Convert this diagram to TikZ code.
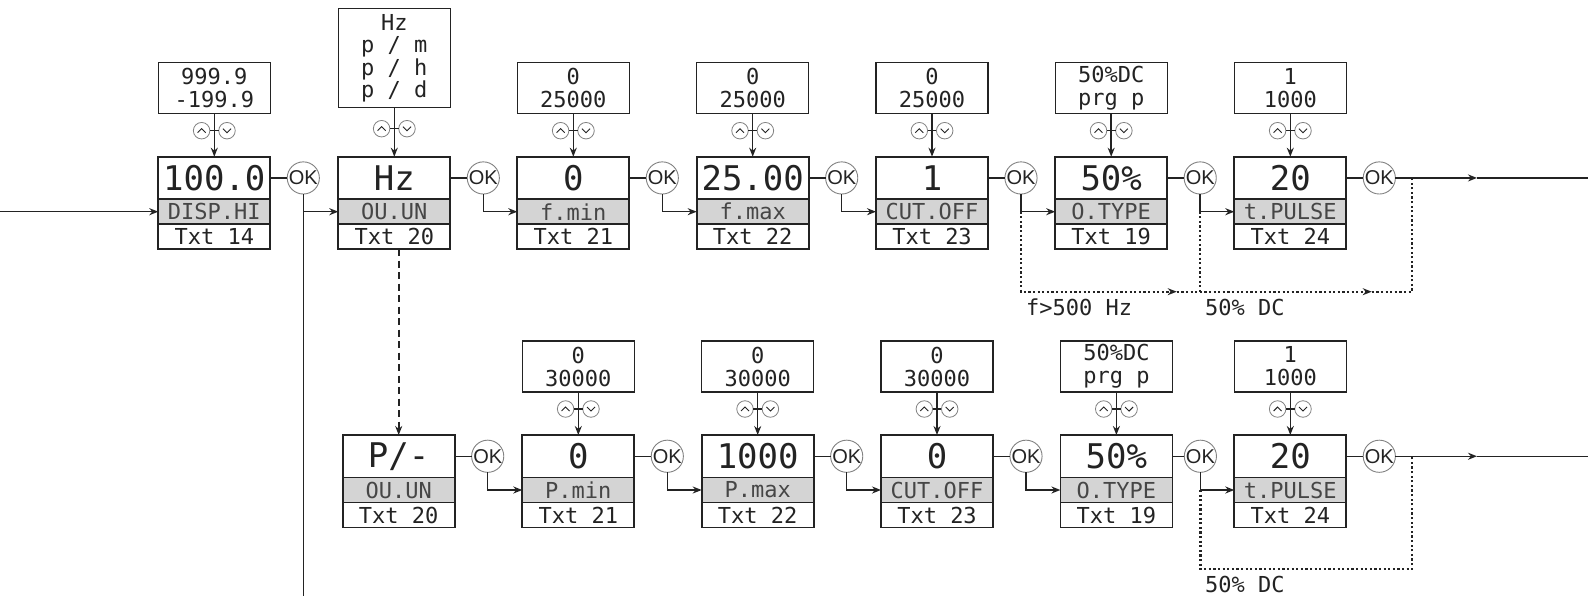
\documentclass[tikz,border=0pt]{standalone}
\usepackage{fontspec}
\usetikzlibrary{arrows.meta}
\newfontfamily\dm{DejaVu Sans Mono}
\newfontfamily\oksf{Liberation Sans}
\definecolor{cellgray}{RGB}{212,212,212}
\definecolor{ink}{RGB}{35,35,35}
\definecolor{labink}{RGB}{70,70,70}
\definecolor{ringc}{RGB}{130,130,130}
\tikzset{
  cellbase/.style={draw=ink, line width=1.8pt, minimum width=112pt, inner sep=0pt, outer sep=0pt, anchor=north west, text=ink},
  valcell/.style={cellbase, minimum height=42.5pt, font=\dm\fontsize{34}{34}\selectfont, fill=white},
  labcell/.style={cellbase, minimum height=25pt, fill=cellgray, font=\dm\fontsize{22}{22}\selectfont, text=labink},
  txtcell/.style={cellbase, minimum height=25pt, fill=white, font=\dm\fontsize{22}{22}\selectfont},
  rngbox/.style={draw=ink, line width=1.3pt, minimum width=112pt, minimum height=51pt, inner sep=0pt, outer sep=0pt, align=center, font=\dm\fontsize{22}{23}\selectfont, text=ink},
  okc/.style={circle, draw=ringc, line width=0.9pt, fill=white, minimum size=31pt, inner sep=0pt, outer sep=0pt, font=\oksf\fontsize{20}{20}\selectfont, text=ink},
  udc/.style={circle, draw=ringc, line width=0.8pt, fill=white, minimum size=16.5pt, inner sep=0pt, outer sep=0pt},
  chev/.style={draw=ink, line width=0.9pt},
  conn/.style={draw=ink, line width=1.5pt},
  arr/.style={conn, -{Stealth[length=9pt,width=7pt]}},
  dotl/.style={draw=ink, line width=2.2pt, dash pattern=on 2.2pt off 2.4pt},
  dotarr/.style={dotl, -{Stealth[length=9pt,width=7pt]}},
  dashl/.style={draw=ink, line width=1.8pt, dash pattern=on 7pt off 4.5pt, -{Stealth[length=9pt,width=7pt]}},
  note/.style={font=\dm\fontsize{22}{22}\selectfont, text=ink, inner sep=0pt, anchor=base west},
}
% stage: name, left, top, value, label, txt, ok offset
\newcommand\stg[7]{%
  \node[valcell] (#1-v) at (#2,#3) {#4};
  \node[labcell] (#1-l) at (#1-v.south west) {#5};
  \node[txtcell] (#1-t) at (#1-l.south west) {#6};
  \node[okc] (#1-ok) at ([xshift=#7pt]#1-v.east) {OK};
  \draw[conn] (#1-v.east) -- (#1-ok);
}
% range: [opts], name, gap, up/down offset, text
\newcommand\rng[5][]{%
  \node[rngbox, anchor=south, #1] (#2-r) at ([yshift=#3pt]#2-v.north) {#5};
  \node[udc] (#2-up) at ([shift={(-12.7pt,#4pt)}]#2-v.north) {};
  \node[udc] (#2-dn) at ([shift={(12.7pt,#4pt)}]#2-v.north) {};
  \draw[chev] ([shift={(-4pt,-2pt)}]#2-up.center) -- ++(4pt,4pt) -- ++(4pt,-4pt);
  \draw[chev] ([shift={(-4pt,2pt)}]#2-dn.center) -- ++(4pt,-4pt) -- ++(4pt,4pt);
  \draw[conn] (#2-up) -- (#2-dn);
  \draw[arr] (#2-r.south) -- (#2-v.north);
}
\begin{document}
\begin{tikzpicture}[x=1pt,y=-1pt]
\fill[white] (0,0) rectangle (1588,596);
\useasboundingbox (0,0) rectangle (1588,596);
\coordinate (origin) at (0,0);
\coordinate (bl) at (0,596);
\coordinate (ax) at (1477,0);
\coordinate (rx) at (1588,0);
\coordinate (dxR) at (1412,0);
\coordinate (dy) at (0,291.7);
\coordinate (by) at (0,569);

% top row
\stg{T1}{158.3}{156.7}{100.0}{DISP.HI}{Txt 14}{33}
\stg{T2}{338.3}{156.7}{Hz}{OU.UN}{Txt 20}{33}
\stg{T3}{517.3}{156.7}{0}{f.min}{Txt 21}{33}
\stg{T4}{696.7}{156.7}{25.00}{f.max}{Txt 22}{33}
\stg{T5}{876}{156.7}{1}{CUT.OFF}{Txt 23}{33}
\stg{T6}{1055.2}{156.7}{50\%}{O.TYPE}{Txt 19}{33}
\stg{T7}{1234.3}{156.7}{20}{t.PULSE}{Txt 24}{33}

\rng{T1}{43}{26}{999.9\\-199.9}
\rng[minimum height=99pt, font=\dm\fontsize{22}{22.5}\selectfont]{T2}{49}{28}{Hz\\p / m\\p / h\\p / d}
\rng{T3}{43}{26}{0\\25000}
\rng{T4}{43}{26}{0\\25000}
\rng{T5}{43}{26}{0\\25000}
\rng{T6}{43}{26}{50\%DC\\prg p}
\rng{T7}{43}{26}{1\\1000}

% bottom row
\stg{B1}{342.7}{435}{P/-}{OU.UN}{Txt 20}{33}
\stg{B2}{522.3}{435}{0}{P.min}{Txt 21}{33}
\stg{B3}{701.7}{435}{1000}{P.max}{Txt 22}{33}
\stg{B4}{881}{435}{0}{CUT.OFF}{Txt 23}{33}
\stg{B5}{1060.4}{435}{50\%}{O.TYPE}{Txt 19}{28}
\stg{B6}{1234.3}{435}{20}{t.PULSE}{Txt 24}{33}

\rng{B2}{43}{26}{0\\30000}
\rng{B3}{43}{26}{0\\30000}
\rng{B4}{43}{26}{0\\30000}
\rng{B5}{43}{26}{50\%DC\\prg p}
\rng{B6}{43}{26}{1\\1000}

% top connectors
\draw[arr] (T1-l.west -| origin) -- (T1-l.west);
\draw[conn] (T1-ok.south) -- (T1-ok.south |- bl);
\draw[arr] (T1-ok.south) |- (T2-l.west);
\draw[arr] (T2-ok.south) |- (T3-l.west);
\draw[arr] (T3-ok.south) |- (T4-l.west);
\draw[arr] (T4-ok.south) |- (T5-l.west);
\draw[arr] (T5-ok.south) |- (T6-l.west);
\draw[arr] (T6-ok.south) |- (T7-l.west);
\draw[arr] (T7-ok) -- (T7-ok -| ax);
\draw[conn] (T7-ok -| ax) -- (T7-ok -| rx);

% top dotted bypass
\coordinate (da1) at (1176.7,291.7);
\coordinate (da2) at (1371.7,291.7);
\draw[dotarr] (T5-ok |- T6-l.west) |- (da1);
\draw[dotarr] (da1) -- (da2);
\draw[dotl] (da2) -| (dxR |- T7-ok);
\draw[dotl] (T6-ok |- T7-l.west) -- (T6-ok |- dy);
\node[note] (lab1) at (1026,315) {f>500 Hz};
\node[note] (lab2) at (1205,315) {50\% DC};

% Hz -> P/- dashed
\draw[dashl] (B1-v.north |- T2-t.south) -- (B1-v.north);

% bottom connectors
\draw[arr] (B1-ok.south) |- (B2-l.west);
\draw[arr] (B2-ok.south) |- (B3-l.west);
\draw[arr] (B3-ok.south) |- (B4-l.west);
\draw[arr] (B4-ok.south) |- (B5-l.west);
\draw[arr] (B5-ok.south) |- (B6-l.west);
\draw[arr] (B6-ok) -- (B6-ok -| ax);
\draw[conn] (B6-ok -| ax) -- (B6-ok -| rx);
\draw[dotl] (B5-ok |- B6-l.west) |- (dxR |- by) -- (dxR |- B6-ok);
\node[note] (lab3) at (1205,592) {50\% DC};
\end{tikzpicture}
\end{document}
